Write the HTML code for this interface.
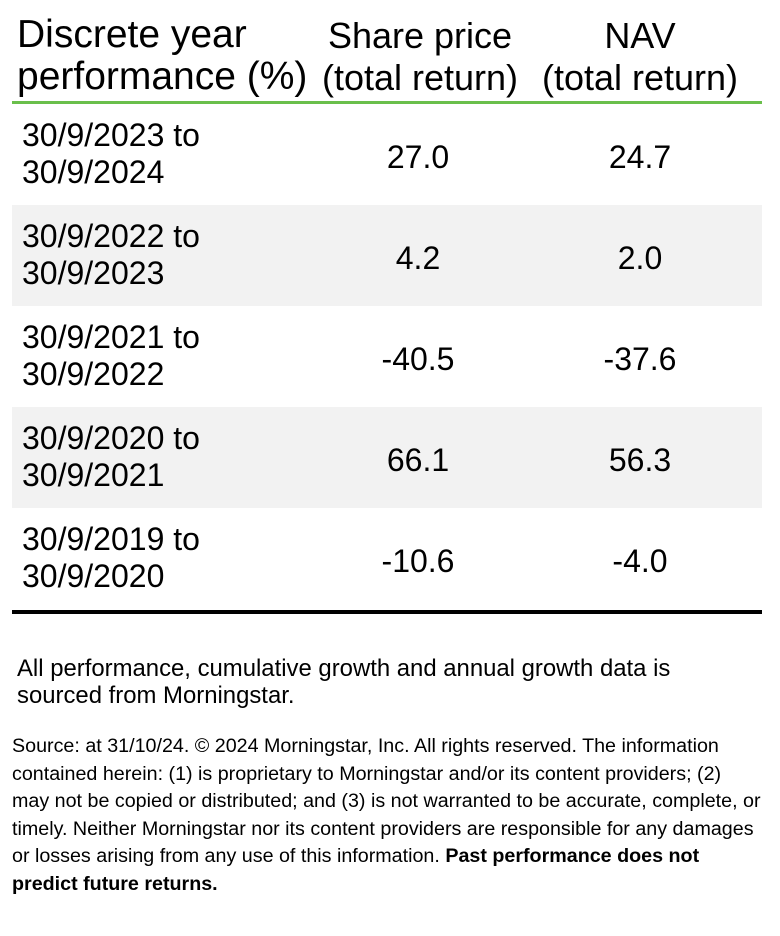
<!DOCTYPE html>
<html><head><meta charset="utf-8"><style>
body{margin:0;width:780px;height:936px;background:#fff;font-family:"Liberation Sans",Arial,sans-serif;color:#000;position:relative;overflow:hidden}
.a{position:absolute;white-space:nowrap}
.h{font-size:39px;line-height:42px}
.hc{font-size:36px;line-height:42px}
.c{text-align:center}
.row{position:absolute;left:12px;width:750px;height:101px}
.g{background:#f2f2f2}
.lab{position:absolute;left:10px;top:13px;font-size:32px;line-height:37px}
.v{position:absolute;top:35px;font-size:32px;width:220px;text-align:center}
.v1{left:296px}.v2{left:518px}
.s{font-size:19.7px;line-height:27.6px}
</style></head><body>
<div class="a h" style="left:17px;top:14px">Discrete year<br>performance (%)</div>
<div class="a hc c" style="left:310px;top:15px;width:220px">Share price<br>(total return)</div>
<div class="a hc c" style="left:530px;top:15px;width:220px">NAV<br>(total return)</div>
<div class="a" style="left:12px;top:101px;width:750px;height:3px;background:#6abf4b"></div>

<div class="row" style="top:104px"><div class="lab">30/9/2023 to<br>30/9/2024</div><div class="v v1">27.0</div><div class="v v2">24.7</div></div>
<div class="row g" style="top:205px"><div class="lab">30/9/2022 to<br>30/9/2023</div><div class="v v1">4.2</div><div class="v v2">2.0</div></div>
<div class="row" style="top:306px"><div class="lab">30/9/2021 to<br>30/9/2022</div><div class="v v1">-40.5</div><div class="v v2">-37.6</div></div>
<div class="row g" style="top:407px"><div class="lab">30/9/2020 to<br>30/9/2021</div><div class="v v1">66.1</div><div class="v v2">56.3</div></div>
<div class="row" style="top:508px"><div class="lab">30/9/2019 to<br>30/9/2020</div><div class="v v1">-10.6</div><div class="v v2">-4.0</div></div>
<div class="a" style="left:12px;top:610px;width:750px;height:4px;background:#000"></div>

<div class="a" style="left:17px;top:655px;font-size:23.9px;line-height:27px">All performance, cumulative growth and annual growth data is<br>sourced from Morningstar.</div>
<div class="a s" style="left:12px;top:733px">Source: at 31/10/24. © 2024 Morningstar, Inc. All rights reserved. The information<br>contained herein: (1) is proprietary to Morningstar and/or its content providers; (2)<br>may not be copied or distributed; and (3) is not warranted to be accurate, complete, or<br>timely. Neither Morningstar nor its content providers are responsible for any damages<br>or losses arising from any use of this information. <b>Past performance does not<br>predict future returns.</b></div>
</body></html>
